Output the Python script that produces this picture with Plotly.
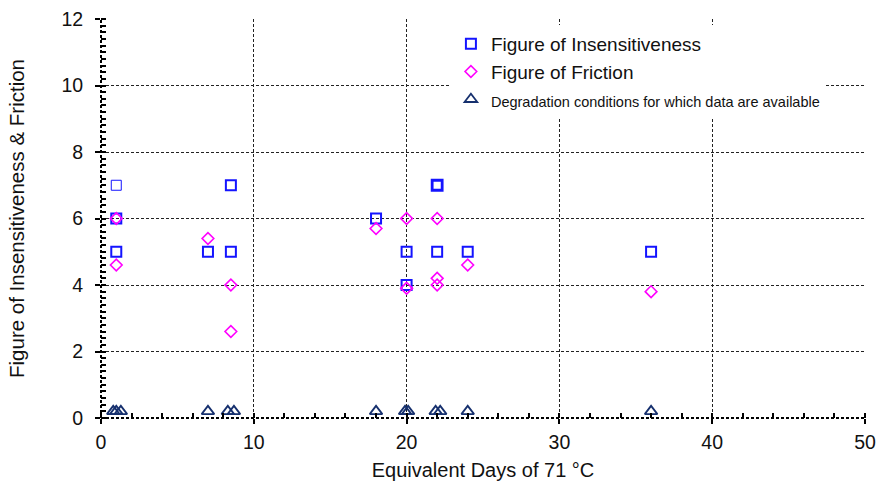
import plotly.graph_objects as go

# Figure of Insensitiveness (blue open squares)
fi_days = [1, 1, 1, 7, 8.5, 8.5, 18, 20, 20, 22, 22, 24, 36]
fi_vals = [7, 6, 5, 5, 7, 5, 6, 5, 4, 7, 5, 5, 5]
fi_widths = [1, 2, 2, 2, 2, 2, 2, 2, 2, 2.8, 2, 2, 2]

# Figure of Friction (magenta open diamonds)
ff_days = [1, 1, 7, 8.5, 8.5, 18, 20, 20, 22, 22, 22, 24, 36]
ff_vals = [6, 4.6, 5.4, 4.0, 2.6, 5.7, 6, 3.9, 6, 4.2, 4.0, 4.6, 3.8]

# Degradation conditions for which data are available (navy open triangles)
deg_days = [0.8, 1.0, 1.3, 7, 8.3, 8.7, 18, 19.9, 20.1, 21.9, 22.2, 24, 36]
deg_level = [0.2] * len(deg_days)

x_ticks = [0, 10, 20, 30, 40, 50]
y_ticks = [0, 2, 4, 6, 8, 10, 12]

BLUE = "#1414ff"
MAGENTA = "#ff00ff"
NAVY = "#16306e"
FONT = "Liberation Sans, Arial, sans-serif"
TXT = "#111111"

fig = go.Figure()

fig.add_trace(go.Scatter(
    x=fi_days, y=fi_vals, mode="markers",
    name="Figure of Insensitiveness",
    marker=dict(symbol="square-open", size=10, color=BLUE,
                line=dict(width=fi_widths, color=BLUE)),
))
fig.add_trace(go.Scatter(
    x=ff_days, y=ff_vals, mode="markers",
    name="Figure of Friction",
    marker=dict(symbol="diamond-open", size=9, color=MAGENTA,
                line=dict(width=1.6, color=MAGENTA)),
))
fig.add_trace(go.Scatter(
    x=deg_days, y=deg_level, mode="markers",
    name='<span style="font-size:14.5px">Degradation conditions for which data are available</span>',
    marker=dict(symbol="triangle-up-open", size=11, color=NAVY,
                line=dict(width=1.8, color=NAVY)),
))

axis_common = dict(
    showgrid=True, gridcolor="#222222", gridwidth=1, griddash="3px,2px",
    zeroline=False, showline=False, automargin=False,
    ticks="outside", ticklen=5, tickcolor="#000000", tickwidth=1.5,
    tickfont=dict(family=FONT, size=19.5, color=TXT),
)

fig.update_xaxes(
    range=[0, 50], tickvals=x_ticks, ticklabelstandoff=2,
    title=dict(text="Equivalent Days of 71 °C", standoff=10,
               font=dict(family=FONT, size=20, color=TXT)),
    minor=dict(dtick=2, ticks="inside", ticklen=5, tickcolor="#000000",
               tickwidth=1.5, showgrid=False),
    **axis_common,
)
fig.update_yaxes(
    range=[0, 12], tickvals=y_ticks, ticklabelstandoff=8,
    title=dict(text="Figure of Insensitiveness & Friction", standoff=31,
               font=dict(family=FONT, size=20.5, color=TXT)),
    minor=dict(dtick=0.2, ticks="inside", ticklen=5, tickcolor="#000000",
               tickwidth=1.5, showgrid=False),
    **axis_common,
)

# Heavier dashed frame lines along the two axes
fig.add_shape(type="line", xref="x domain", yref="y domain",
              x0=0, x1=1, y0=0, y1=0,
              line=dict(color="#000000", width=2, dash="3px,2px"))
fig.add_shape(type="line", xref="x domain", yref="y domain",
              x0=0, x1=0, y0=0, y1=1,
              line=dict(color="#000000", width=2, dash="3px,2px"))

fig.update_layout(
    width=877, height=486,
    margin=dict(l=101, r=12, t=19, b=68),
    paper_bgcolor="#ffffff", plot_bgcolor="#ffffff",
    font=dict(family=FONT, size=16, color=TXT),
    showlegend=True,
    legend=dict(
        x=0.458, y=0.985, xanchor="left", yanchor="top",
        bgcolor="#ffffff", borderwidth=0,
        font=dict(family=FONT, size=19, color=TXT),
        itemwidth=30, tracegroupgap=0,
    ),
)

fig.write_html("out.html")
